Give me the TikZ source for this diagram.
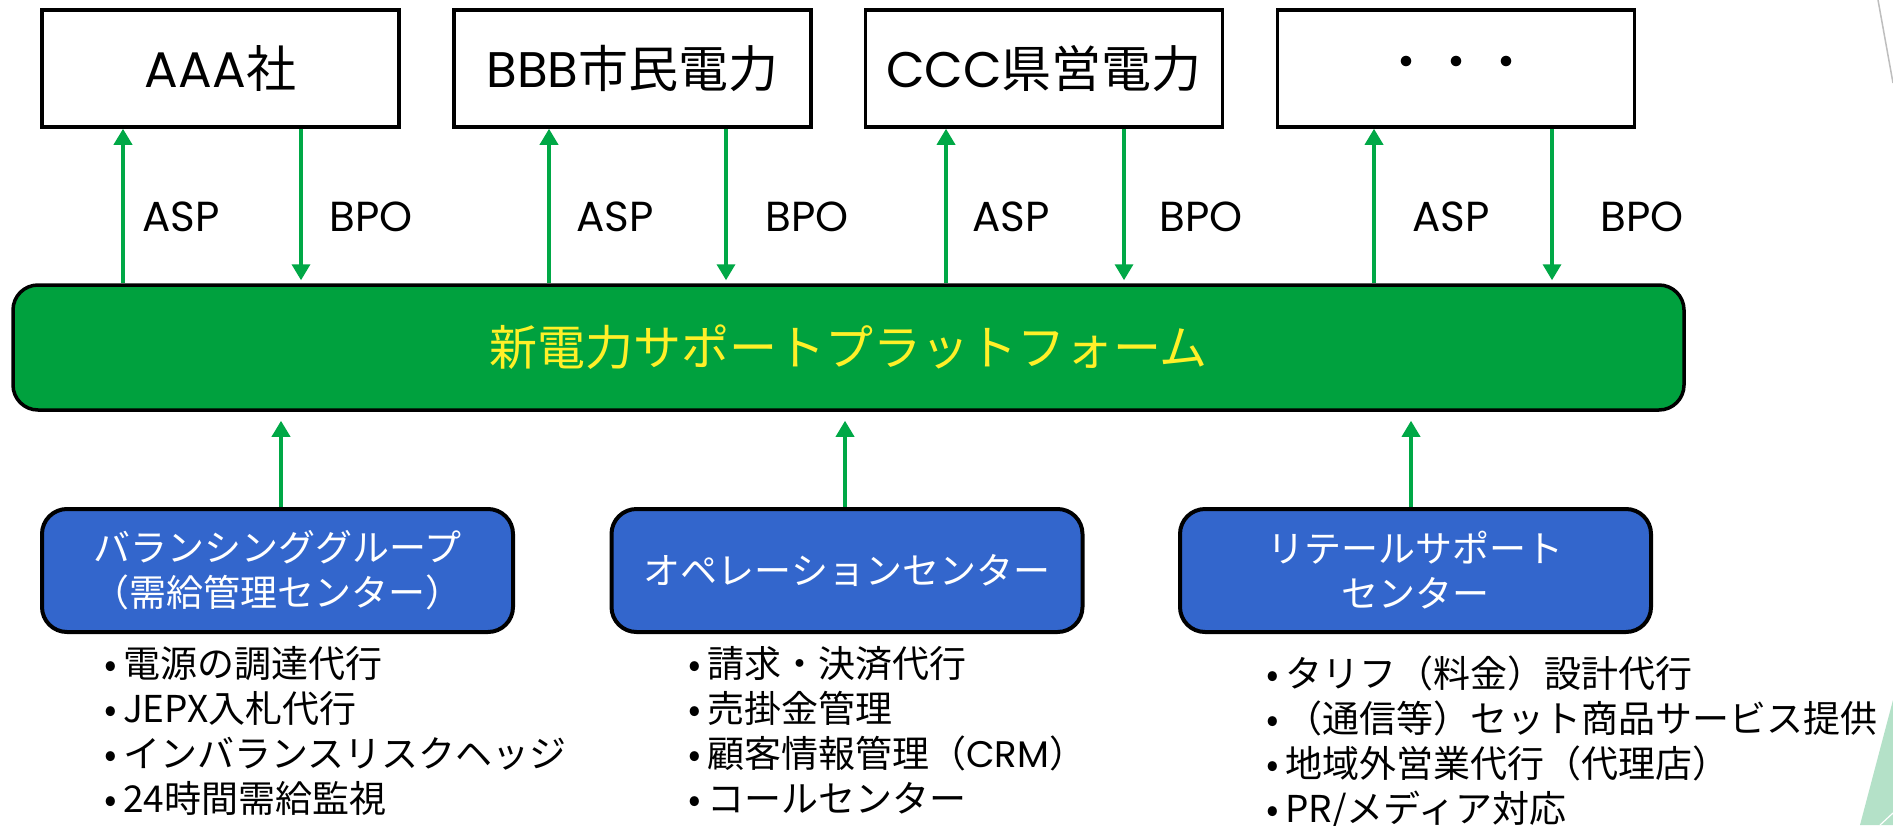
\documentclass[tikz,border=0pt]{standalone}
\usepackage{fontspec}
\setmainfont{Noto Sans CJK JP}
\newfontfamily\pop{Poppins}
\usetikzlibrary{arrows.meta,calc}
\definecolor{pfgreen}{RGB}{0,161,62}
\definecolor{arrgreen}{RGB}{0,168,70}
\definecolor{boxblue}{RGB}{51,102,204}
\definecolor{txtyellow}{RGB}{255,240,40}
\definecolor{decogreen}{RGB}{180,225,200}
\definecolor{decogrey}{RGB}{190,190,190}
\newcommand\bul{\makebox[24pt][c]{•}}
\begin{document}
\begin{tikzpicture}[x=1pt,y=-1pt,
  topbox/.style={draw=black,line width=3.5pt,fill=white,minimum width=357pt,minimum height=117pt,inner sep=0pt,font=\fontsize{50}{60}\selectfont},
  platform/.style={draw=black,line width=3.5pt,fill=pfgreen,rounded corners=25pt,minimum width=1671pt,minimum height=125pt,inner sep=0pt,text=txtyellow,font=\fontsize{48}{58}\selectfont},
  unitbox/.style={draw=black,line width=4pt,fill=boxblue,rounded corners=25pt,minimum width=471pt,minimum height=123pt,inner sep=0pt,text=white,align=center,font=\fontsize{37}{45}\selectfont},
  flow/.style={draw=arrgreen,line width=3.5pt,-{Triangle[width=18pt,length=16pt]}},
  lbl/.style={font=\pop\fontsize{42}{50}\selectfont,inner sep=0pt},
  items/.style={align=left,anchor=west,inner sep=0pt,font=\fontsize{37}{45}\selectfont}
]
\useasboundingbox (0,0) rectangle (1893,825);
\fill[white] (0,0) rectangle (1893,825);
% slide decoration
\fill[decogreen] (1893,700) -- (1860,825) -- (1893,825) -- cycle;
\draw[white,line width=1.2pt] (1880,825) -- (1893,813);
\draw[decogrey,line width=1.5pt] (1878,0) -- (1893,83);

% top boxes
\node[topbox] (a) at (220.5,68.5) {{\pop AAA}社};
\node[topbox] (b) at (632.5,68.5) {{\pop BBB}市民電力};
\node[topbox] (c) at (1044,68.5) {{\pop CCC}県営電力};
\node[topbox] (d) at (1456,68.5) {・・・};

% platform
\node[platform] (p) at (848.5,347.5) {新電力サポートプラットフォーム};

% unit boxes
\node[unitbox] (u1) at (277.5,570.5) {バランシンググループ\\（需給管理センター）};
\node[unitbox] (u2) at (847,570.5) {オペレーションセンター};
\node[unitbox] (u3) at (1415.5,570.5) {リテールサポート\\センター};

% ASP / BPO arrows
\foreach \n/\ao/\bo in {a/-97.5/80.5, b/-83.5/93.5, c/-98/80, d/-82/96} {
  \coordinate (\n-asp) at ($(\n.south)+(\ao,0)$);
  \coordinate (\n-bpo) at ($(\n.south)+(\bo,0)$);
  \draw[flow] (\n-asp |- p.north) -- (\n-asp);
  \draw[flow,shorten >=3pt] (\n-bpo) -- (\n-bpo |- p.north);
}
\node[lbl] (la) at (181,217) {ASP};
\node[lbl] (lb) at (615,217) {ASP};
\node[lbl] (lc) at (1011,217) {ASP};
\node[lbl] (ld) at (1451,217) {ASP};
\node[lbl] (ma) at (371,217) {BPO};
\node[lbl] (mb) at (807,217) {BPO};
\node[lbl] (mc) at (1201,217) {BPO};
\node[lbl] (md) at (1642,217) {BPO};

% lower arrows
\foreach \n/\o in {u1/3.5, u2/-2, u3/-4.5} {
  \coordinate (\n-up) at ($(\n.north)+(\o,0)$);
  \draw[flow,shorten >=9pt] (\n-up) -- (\n-up |- p.south);
}

% item lists
\node[items] (i1) at (99,730.5) {\bul 電源の調達代行\\\bul JEPX入札代行\\\bul インバランスリスクヘッジ\\\bul 24時間需給監視};
\node[items] (i2) at (683,730.5) {\bul 請求・決済代行\\\bul 売掛金管理\\\bul 顧客情報管理（{\pop CRM}）\\\bul コールセンター};
\node[items] (i3) at (1261,742.5) {\bul タリフ（料金）設計代行\\\bul （通信等）セット商品サービス提供\\\bul 地域外営業代行（代理店）\\\bul PR/メディア対応};
\end{tikzpicture}
\end{document}
